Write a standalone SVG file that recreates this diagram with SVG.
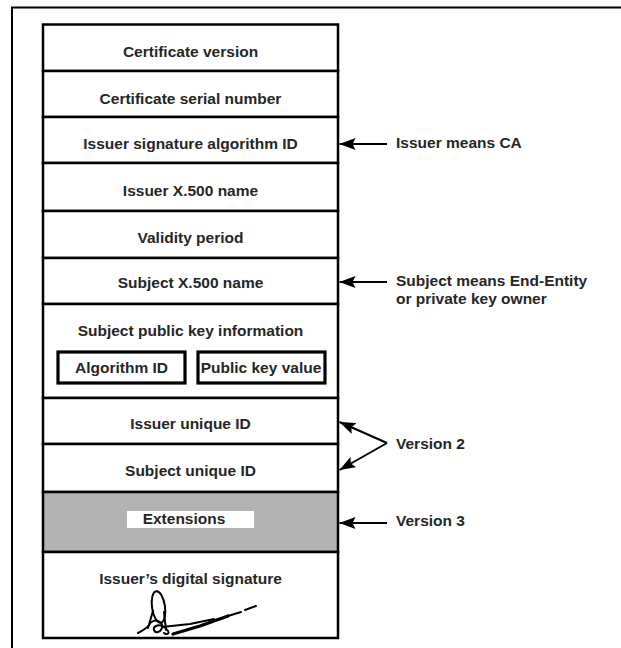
<svg xmlns="http://www.w3.org/2000/svg" width="621" height="648" viewBox="0 0 621 648">
<style>
  text { font-family: "Liberation Sans", Arial, sans-serif; font-size: 15.5px; font-weight: bold; fill: #262626; }
  .c { text-anchor: middle; }
  .row { fill: #ffffff; stroke: #000; stroke-width: 2.5; }
  .gray { fill: #b3b3b3; stroke: #000; stroke-width: 2.5; }
  .inner { fill: #ffffff; stroke: #000; stroke-width: 3.2; }
  .conn { stroke: #000; stroke-width: 2; fill: none; }
  .sig { stroke: #000; fill: none; stroke-linecap: round; stroke-linejoin: round; }
</style>
<defs>
  <marker id="ah" markerUnits="userSpaceOnUse" viewBox="0 0 16 12" refX="16" refY="6" markerWidth="16" markerHeight="12" orient="auto">
    <path d="M0,0 L16,6 L0,12 L3,6 z" fill="#000"/>
  </marker>
</defs>
<rect width="621" height="648" fill="#fff"/>
<path d="M12,648 V7.5 H621" fill="none" stroke="#000" stroke-width="2"/>

<g id="cert-version"><rect class="row" x="43" y="24.5" width="295" height="46.5"/><text class="c" x="190.5" y="57">Certificate version</text></g>
<g id="serial-number"><rect class="row" x="43" y="71" width="295" height="46"/><text class="c" x="190.5" y="104">Certificate serial number</text></g>
<g id="issuer-sig-alg"><rect class="row" x="43" y="117" width="295" height="46"/><text class="c" x="190.5" y="149">Issuer signature algorithm ID</text></g>
<g id="issuer-name"><rect class="row" x="43" y="163" width="295" height="48"/><text class="c" x="190.5" y="196">Issuer X.500 name</text></g>
<g id="validity"><rect class="row" x="43" y="211" width="295" height="47"/><text class="c" x="190.5" y="243">Validity period</text></g>
<g id="subject-name"><rect class="row" x="43" y="258" width="295" height="46"/><text class="c" x="190.5" y="288">Subject X.500 name</text></g>
<g id="subject-pk-info"><rect class="row" x="43" y="304" width="295" height="94"/><text class="c" x="190.5" y="336">Subject public key information</text></g>
<g id="algorithm-id"><rect class="inner" x="58" y="352" width="127" height="31"/><text class="c" x="121.5" y="373">Algorithm ID</text></g>
<g id="public-key-value"><rect class="inner" x="198" y="352" width="127" height="31"/><text class="c" x="261" y="373">Public key value</text></g>
<g id="issuer-unique-id"><rect class="row" x="43" y="398" width="295" height="46"/><text class="c" x="190.5" y="429">Issuer unique ID</text></g>
<g id="subject-unique-id"><rect class="row" x="43" y="444" width="295" height="48"/><text class="c" x="190.5" y="476">Subject unique ID</text></g>
<g id="extensions"><rect class="gray" x="43" y="492" width="295" height="60"/><rect x="127" y="511" width="127" height="17" fill="#fff"/><text class="c" x="184" y="523.5">Extensions</text></g>
<g id="issuer-digital-signature"><rect class="row" x="43" y="552" width="295" height="86"/><text class="c" x="190.5" y="584">Issuer’s digital signature</text>
  <g class="sig">
    <ellipse cx="158.5" cy="607" rx="6.5" ry="16" transform="rotate(-8 158.5 607)" stroke-width="2"/>
    <path d="M138,633 C142,631 146,629 149,625 C151,621 156,619 160,622 C164,625 162,631 158,632 C154,633 152,628 156,626 C160,624 166,627 168,631 C170,634 166,635 164,633" stroke-width="2"/>
    <path d="M153,611 L148,628" stroke-width="2"/>
    <path d="M164,612 L166,630" stroke-width="2"/>
    <path d="M162,627 L190,624 L214,619" stroke-width="1.8"/>
    <path d="M173,634 L200,626 L228,616" stroke-width="3.2"/>
    <path d="M228,616 L241,612 M245,610 L256,606" stroke-width="2"/>
  </g>
</g>

<g id="connectors">
  <line class="conn" x1="387" y1="144" x2="339.5" y2="144" marker-end="url(#ah)"/>
  <line class="conn" x1="387" y1="282" x2="339.5" y2="282" marker-end="url(#ah)"/>
  <line class="conn" x1="387" y1="443" x2="339.5" y2="422" marker-end="url(#ah)"/>
  <line class="conn" x1="387" y1="443" x2="339.5" y2="470" marker-end="url(#ah)"/>
  <line class="conn" x1="387" y1="523" x2="339.5" y2="523" marker-end="url(#ah)"/>
</g>

<g id="labels">
  <text x="396" y="148">Issuer means CA</text>
  <text x="396" y="286">Subject means End-Entity</text>
  <text x="396" y="304">or private key owner</text>
  <text x="396" y="449">Version 2</text>
  <text x="396" y="526">Version 3</text>
</g>
</svg>
